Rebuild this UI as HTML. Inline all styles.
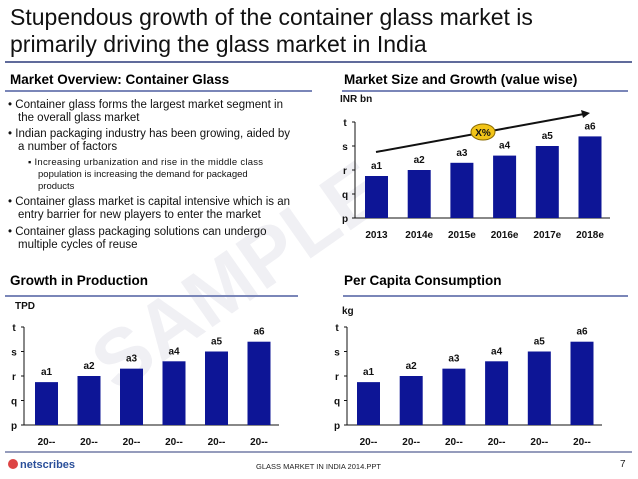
<!DOCTYPE html>
<html><head><meta charset="utf-8"><style>
body{margin:0;width:638px;height:479px;background:#fff;overflow:hidden;font-family:"Liberation Sans",sans-serif}
svg{position:absolute;left:0;top:0}
.b{font-family:"Liberation Sans",sans-serif;font-size:10px;font-weight:bold;fill:#111}
</style></head><body>
<svg id="s" width="638" height="479">
<text x="40" y="330" transform="rotate(-35 180 240)" font-size="80" font-weight="bold" fill="#f0f0f4">SAMPLE</text>
<text x="10" y="25" font-size="23" fill="#111">Stupendous growth of the container glass market is</text>
<text x="10" y="52" font-size="23" fill="#111">primarily driving the glass market in India</text>
<line x1="5" y1="62" x2="632" y2="62" stroke="#2b3a7a" stroke-width="1.5"/>
<text x="10" y="84" font-size="13.5" font-weight="bold">Market Overview: Container Glass</text>
<line x1="5" y1="91" x2="312" y2="91" stroke="#7a86b8" stroke-width="2"/>
<text x="344" y="84" font-size="13.5" font-weight="bold">Market Size and Growth (value wise)</text>
<line x1="342" y1="91" x2="628" y2="91" stroke="#7a86b8" stroke-width="2"/>
<g font-size="11.5" fill="#111">
<text x="8" y="108" textLength="275">• Container glass forms the largest market segment in</text>
<text x="18" y="121">the overall glass market</text>
<text x="8" y="137" textLength="282">• Indian packaging industry has been growing, aided by</text>
<text x="18" y="150">a number of factors</text>
<text x="28" y="165" font-size="9.5" textLength="235">▪ Increasing urbanization and rise in the middle  class</text>
<text x="38" y="177" font-size="9.5">population is increasing the demand for packaged</text>
<text x="38" y="189" font-size="9.5">products</text>
<text x="8" y="205" textLength="282">• Container glass market is capital intensive which is an</text>
<text x="18" y="218">entry barrier for new players to enter the market</text>
<text x="8" y="235">• Container glass packaging solutions can undergo</text>
<text x="18" y="248">multiple cycles of reuse</text>
</g>
<text x="10" y="285" font-size="13.5" font-weight="bold">Growth in Production</text>
<line x1="5" y1="296" x2="298" y2="296" stroke="#7a86b8" stroke-width="2"/>
<text x="344" y="285" font-size="13.5" font-weight="bold">Per Capita Consumption</text>
<line x1="343" y1="296" x2="628" y2="296" stroke="#7a86b8" stroke-width="2"/>
<text x="340" y="102" class="b" font-size="9">INR bn</text>
<text x="15" y="309" class="b" font-size="9">TPD</text>
<text x="342" y="314" class="b" font-size="9">kg</text>
<line x1="5" y1="452" x2="632" y2="452" stroke="#2b3a7a" stroke-width="1"/>
<circle cx="13" cy="464" r="5" fill="#d44"/>
<text x="20" y="468" font-size="11" font-weight="bold" fill="#2a4f9a">netscribes</text>
<text x="256" y="469" font-size="7.5" fill="#222">GLASS MARKET IN INDIA 2014.PPT</text>
<text x="620" y="467" font-size="10" fill="#222">7</text>
<g id="c1"></g><g id="c2"></g><g id="c3"></g>
<line x1="376" y1="152" x2="584" y2="114" stroke="#111" stroke-width="2"/>
<polygon points="590,113 581,110 583,118" fill="#111"/>
<ellipse cx="483" cy="132" rx="12" ry="8" fill="#f2c418" stroke="#8a6a00"/>
<text x="483" y="136" text-anchor="middle" class="b">X%</text>
</svg>
<script>
const tickLabels=['p','q','r','s','t'];
const marketCats=['2013','2014e','2015e','2016e','2017e','2018e'];
const marketVals=[1.75,2.0,2.3,2.6,3.0,3.4];
const prodCats=['20--','20--','20--','20--','20--','20--'];
const prodVals=[1.75,2.0,2.3,2.6,3.0,3.4];
const capCats=['20--','20--','20--','20--','20--','20--'];
const capVals=[1.75,2.0,2.3,2.6,3.0,3.4];
const barLabels=['a1','a2','a3','a4','a5','a6'];
const NS='http://www.w3.org/2000/svg';
function mk(g,tag,at,txt){const e=document.createElementNS(NS,tag);for(const k in at)e.setAttribute(k,at[k]);if(txt!=null)e.textContent=txt;g.appendChild(e);return e;}
function chart(id,cfg,cats,vals){
 const g=document.getElementById(id);
 const y=v=>cfg.base-v*cfg.step;
 const x=i=>cfg.x0+i*cfg.pitch;
 let e=mk(g,'line',{x1:cfg.ax,y1:y(4),x2:cfg.ax,y2:cfg.base,stroke:'#111'});
 
 
 e=mk(g,'line',{x1:cfg.ax,y1:cfg.base,x2:cfg.end,y2:cfg.base,stroke:'#111'});
 
 
 tickLabels.forEach((t,i)=>{
  mk(g,'line',{x1:cfg.ax-3,y1:y(i),x2:cfg.ax,y2:y(i),stroke:'#111'});
  e=mk(g,'text',{x:cfg.ax-10,y:y(i)+4,class:'b','text-anchor':'middle'},t);
  
  
 });
 vals.forEach((v,i)=>{
  e=mk(g,'rect',{x:x(i),y:y(v),width:cfg.w,height:cfg.base-y(v),fill:'#0d1596'});
  
  
  e=mk(g,'text',{x:x(i)+cfg.w/2,y:y(v)-7,class:'b','text-anchor':'middle'},barLabels[i]);
  
  
  e=mk(g,'text',{x:x(i)+cfg.w/2,y:cfg.base+20,class:'b','text-anchor':'middle'},cats[i]);
  
  
 });
}
chart('c1',{ax:355,end:610,base:218,step:24,x0:365,pitch:42.7,w:23},marketCats,marketVals);
chart('c2',{ax:24,end:279,base:425,step:24.5,x0:35,pitch:42.5,w:23},prodCats,prodVals);
chart('c3',{ax:347,end:602,base:425,step:24.5,x0:357,pitch:42.7,w:23},capCats,capVals);
</script>
</body></html>
